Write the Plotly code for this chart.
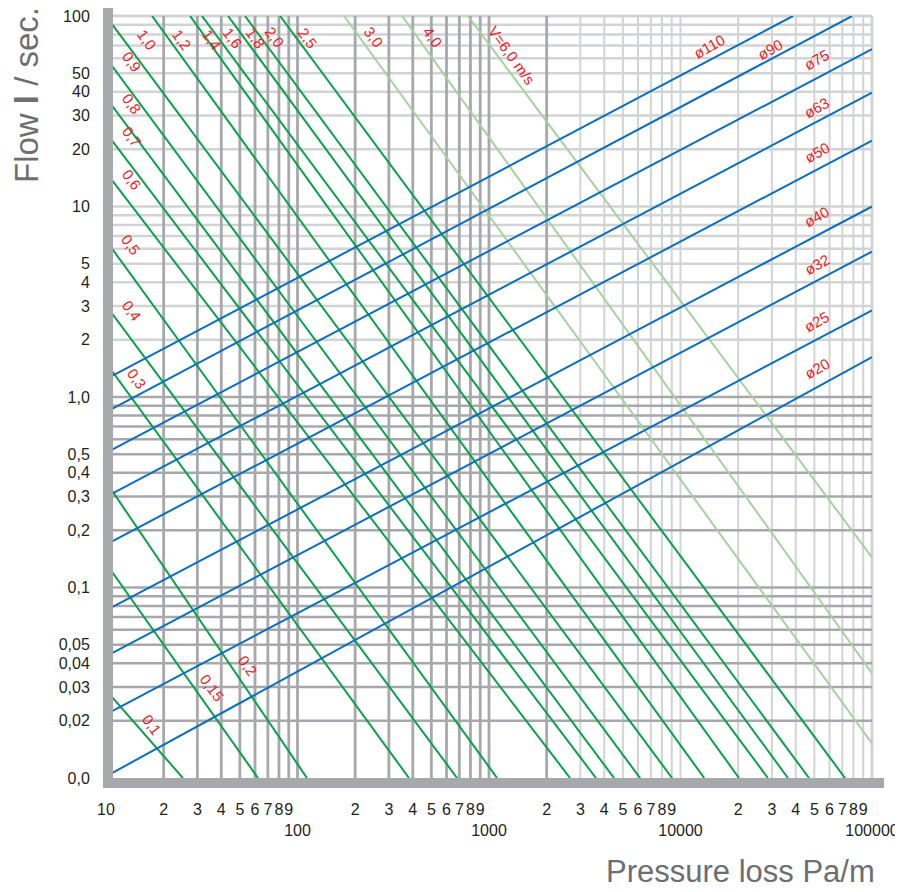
import plotly.graph_objects as go

# ---------------- data ----------------
# velocity lines (m/s): start point and end point
velocity_labels = ["0,1", "0,15", "0,2", "0,3", "0,4", "0,5", "0,6", "0,7", "0,8", "0,9",
                   "1,0", "1,2", "1,4", "1,6", "1,8", "2,0", "2,5", "3,0", "4,0", "V=6,0 m/s"]
vel_x0 = [10, 10, 10, 10, 10, 10, 10, 10, 10, 10,
          10, 17.4, 27.5, 31.7, 43.4, 53.2, 81.1, 175, 352, 776]
vel_y0 = [0.0289, 0.134, 0.359, 1.51, 3.03, 6.64, 15.1, 24.4, 37.3, 60.3,
          100, 100, 100, 100, 100, 100, 100, 100, 100, 100]
vel_x1 = [25.2, 62.2, 112, 382, 681, 1102, 2650, 3620, 4500, 6150,
          9040, 13300, 20200, 28600, 36400, 46900, 72300, 100000, 100000, 100000]
vel_y1 = [0.01, 0.01, 0.01, 0.01, 0.01, 0.01, 0.01, 0.01, 0.01, 0.01,
          0.01, 0.01, 0.01, 0.01, 0.01, 0.01, 0.01, 0.0152, 0.0355, 0.144]
light_velocity_labels = ["3,0", "4,0", "V=6,0 m/s"]

# pipe diameter lines
pipe_labels = ["ø20", "ø25", "ø32", "ø40", "ø50", "ø63", "ø75", "ø90", "ø110"]
pipe_x0 = [10, 10, 10, 10, 10, 10, 10, 10, 10]
pipe_y0 = [0.0102, 0.0216, 0.0435, 0.0758, 0.168, 0.299, 0.509, 0.834, 1.242]
pipe_x1 = [100000, 100000, 100000, 100000, 100000, 100000, 100000, 78700, 38650]
pipe_y1 = [1.62, 2.85, 5.80, 10.0, 22.2, 39.6, 67.1, 100, 100]

# ticks
x_tick_vals = [10, 20, 30, 40, 50, 60, 70, 80, 90,
               100, 200, 300, 400, 500, 600, 700, 800, 900,
               1000, 2000, 3000, 4000, 5000, 6000, 7000, 8000, 9000,
               10000, 20000, 30000, 40000, 50000, 60000, 70000, 80000, 90000, 100000]
x_tick_text = ["10", "2", "3", "4", "5", "6", "7", "8", "9",
               "<br>100", "2", "3", "4", "5", "6", "7", "8", "9",
               "<br>1000", "2", "3", "4", "5", "6", "7", "8", "9",
               "<br>10000", "2", "3", "4", "5", "6", "7", "8", "9", "<br>100000"]
y_tick_vals = [100, 50, 40, 30, 20, 10, 5, 4, 3, 2, 1, 0.5, 0.4, 0.3, 0.2,
               0.1, 0.05, 0.04, 0.03, 0.02, 0.01]
y_tick_text = ["100", "50", "40", "30", "20", "10", "5", "4", "3", "2", "1,0", "0,5", "0,4",
               "0,3", "0,2", "0,1", "0,05", "0,04", "0,03", "0,02", "0,0"]

# grid lines
grid_x_dark = [20, 30, 40, 50, 60, 70, 80, 90, 100, 200, 300, 400, 500, 600, 700, 800, 900,
               1000, 2000]
grid_x_light = [3000, 4000, 5000, 6000, 7000, 8000, 9000,
                10000, 20000, 30000, 40000, 50000, 60000, 70000, 80000, 90000]
grid_y_light = [2, 3, 4, 5, 6, 7, 8, 9, 10, 20, 30, 40, 50, 60, 70, 80, 90]
grid_y_dark = [0.02, 0.03, 0.04, 0.05, 0.06, 0.07, 0.08, 0.09,
               0.1, 0.2, 0.3, 0.4, 0.5, 0.6, 0.7, 0.8, 0.9, 1]

X_MIN, X_MAX = 10, 100000
Y_MIN, Y_MAX = 0.01, 100

# ---------------- layout geometry / styles ----------------
# page is 903x892; the html body has an 8px margin, so the figure is drawn 8px in
PAGE_W, PAGE_H, OFF = 903, 892, 8
PLOT_L, PLOT_R, PLOT_T, PLOT_B = 106, 872, 16, 778      # plot area in page pixels
W, H = PAGE_W - OFF, PAGE_H - OFF
ML, MT = PLOT_L - OFF, PLOT_T - OFF
MR, MB = PAGE_W - PLOT_R, PAGE_H - PLOT_B
PW, PH = PLOT_R - PLOT_L, PLOT_B - PLOT_T

# label centres in page pixels (layout positions)
vel_label_px = [(152, 724), (212, 687), (248, 665), (137, 378), (132, 310), (131, 244),
                (132, 179), (132, 136), (132, 103), (132, 61), (147, 39), (182, 39),
                (212, 39), (232, 38), (255, 38), (274, 37), (307, 38), (373, 37),
                (432, 37), (512, 55)]
pipe_label_px = [(817, 368), (817, 322), (817, 264), (817, 217), (817, 152), (817, 108),
                 (817, 60), (770, 49), (709, 47)]

GREEN = "#0aa14b"
LIGHT_GREEN = "#a5d39f"
BLUE = "#0b6fbd"
RED = "#ee1c25"
GRID_DARK = "#a7a8ac"
GRID_LIGHT = "#d2d3d5"
BAR = "#a7a8ac"
FONT = "Liberation Sans, Arial, Helvetica, sans-serif"


def px_to_paper(px, py):
    return (px - PLOT_L) / PW, (PLOT_B - py) / PH


def vlines(vals):
    xs, ys = [], []
    for v in vals:
        xs += [v, v, None]
        ys += [Y_MIN, Y_MAX, None]
    return xs, ys


def hlines(vals):
    xs, ys = [], []
    for v in vals:
        xs += [X_MIN, X_MAX, None]
        ys += [v, v, None]
    return xs, ys


fig = go.Figure()

# light grid first, then dark grid
for maker, vals, color, width in [
    (vlines, grid_x_light, GRID_LIGHT, 2),
    (hlines, grid_y_light, GRID_LIGHT, 2.5),
    (hlines, grid_y_dark, GRID_DARK, 2.5),
    (vlines, grid_x_dark, GRID_DARK, 2.8),
]:
    gx, gy = maker(vals)
    fig.add_trace(go.Scatter(x=gx, y=gy, mode="lines", line=dict(color=color, width=width),
                             hoverinfo="skip", showlegend=False))

# velocity lines
for lab, x0, y0, x1, y1 in zip(velocity_labels, vel_x0, vel_y0, vel_x1, vel_y1):
    col = LIGHT_GREEN if lab in light_velocity_labels else GREEN
    fig.add_trace(go.Scatter(x=[x0, x1], y=[y0, y1], mode="lines",
                             line=dict(color=col, width=2), name=lab, showlegend=False))

# pipe lines
for lab, x0, y0, x1, y1 in zip(pipe_labels, pipe_x0, pipe_y0, pipe_x1, pipe_y1):
    fig.add_trace(go.Scatter(x=[x0, x1], y=[y0, y1], mode="lines",
                             line=dict(color=BLUE, width=2), name=lab, showlegend=False))

annotations = []
for lab, (px, py) in zip(velocity_labels, vel_label_px):
    ax_, ay_ = px_to_paper(px, py)
    annotations.append(dict(x=ax_, y=ay_, xref="paper", yref="paper", text=lab,
                            showarrow=False, textangle=54, xanchor="center", yanchor="middle",
                            font=dict(family=FONT, size=15, color=RED)))
for lab, (px, py) in zip(pipe_labels, pipe_label_px):
    ax_, ay_ = px_to_paper(px, py)
    annotations.append(dict(x=ax_, y=ay_, xref="paper", yref="paper", text=lab,
                            showarrow=False, textangle=-29, xanchor="center", yanchor="middle",
                            font=dict(family=FONT, size=15, color=RED)))

# axis titles
tx, ty = px_to_paper(877, 871)
annotations.append(dict(x=tx, y=ty, xref="paper", yref="paper", text="Pressure loss Pa/m",
                        showarrow=False, xanchor="right", yanchor="middle",
                        font=dict(family=FONT, size=31, color="#6d6e71")))
tx, ty = px_to_paper(27, 95)
annotations.append(dict(x=tx, y=ty, xref="paper", yref="paper", text="Flow <b>l</b> / sec.",
                        showarrow=False, textangle=-90, xanchor="center", yanchor="middle",
                        font=dict(family=FONT, size=33, color="#6d6e71")))

shapes = []
# top and right thin frame lines
shapes.append(dict(type="line", xref="paper", yref="paper", x0=0, x1=1, y0=1, y1=1,
                   line=dict(color=GRID_LIGHT, width=3), layer="below"))
shapes.append(dict(type="line", xref="paper", yref="paper", x0=1, x1=1, y0=0, y1=1,
                   line=dict(color=GRID_LIGHT, width=3), layer="below"))
# thick left and bottom bars
bx0, by0 = px_to_paper(103, 788)
bx1, by1 = px_to_paper(113, 5)
shapes.append(dict(type="rect", xref="paper", yref="paper", x0=bx0, x1=bx1, y0=by0, y1=by1,
                   fillcolor=BAR, line=dict(width=0), layer="above"))
bx0, by0 = px_to_paper(103, 788)
bx1, by1 = px_to_paper(884, 778)
shapes.append(dict(type="rect", xref="paper", yref="paper", x0=bx0, x1=bx1, y0=by0, y1=by1,
                   fillcolor=BAR, line=dict(width=0), layer="above"))

fig.update_layout(
    template="none",
    width=W, height=H, autosize=False,
    margin=dict(l=ML, r=MR, t=MT, b=MB, pad=0),
    paper_bgcolor="white", plot_bgcolor="white",
    showlegend=False,
    annotations=annotations,
    shapes=shapes,
    xaxis=dict(type="log", range=[1, 5], showgrid=False, zeroline=False, showline=False,
               automargin=False, ticklabeloverflow="allow",
               tickmode="array", tickvals=x_tick_vals, ticktext=x_tick_text, tickangle=0,
               ticks="outside", ticklen=17, tickcolor="rgba(0,0,0,0)",
               tickfont=dict(family=FONT, size=16, color="#231f20")),
    yaxis=dict(type="log", range=[-2, 2], showgrid=False, zeroline=False, showline=False,
               automargin=False, ticklabeloverflow="allow",
               tickmode="array", tickvals=y_tick_vals, ticktext=y_tick_text,
               ticks="outside", ticklen=12, tickcolor="rgba(0,0,0,0)",
               tickfont=dict(family=FONT, size=16, color="#231f20")),
)

fig.write_html("out.html")
